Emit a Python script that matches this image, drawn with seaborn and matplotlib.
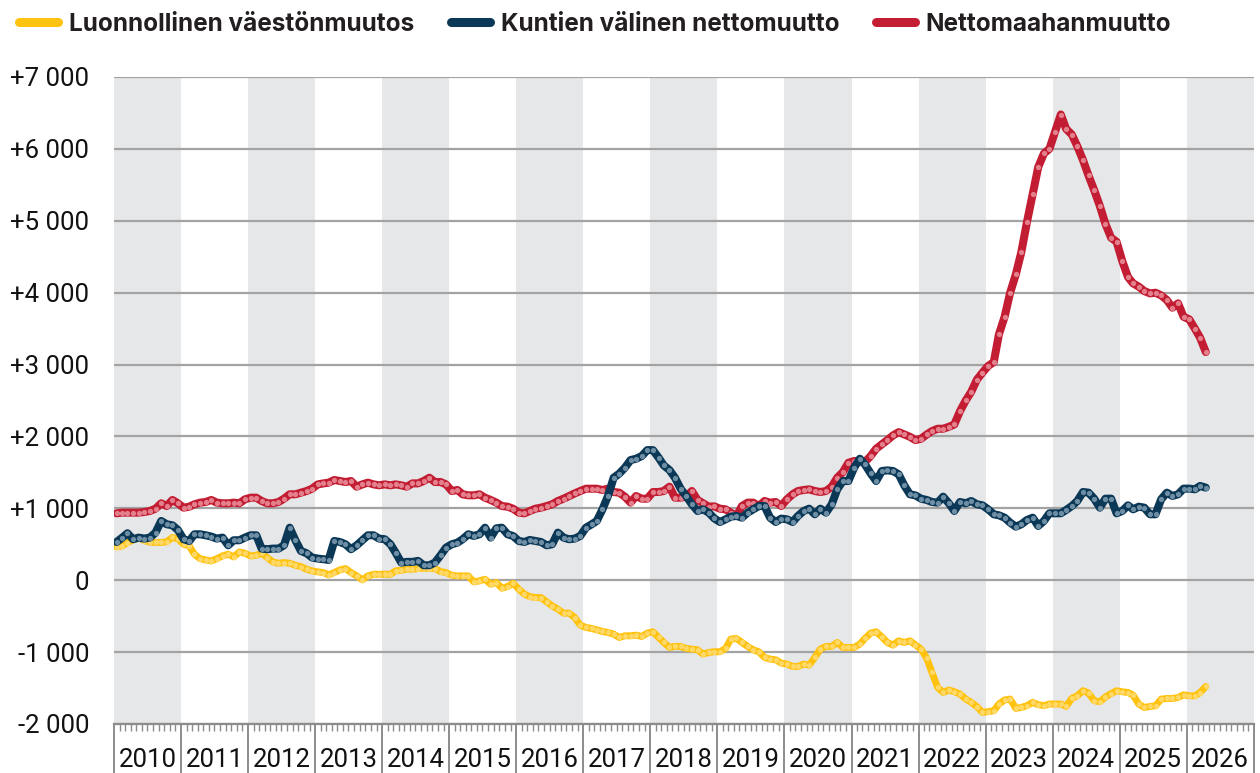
# Väestönmuutoksen osatekijät, 12 kk liukuva summa (kuukausittain)
import pandas as pd
import numpy as np
import matplotlib
matplotlib.use("Agg")
import matplotlib.pyplot as plt
import matplotlib.dates as mdates
from matplotlib.lines import Line2D
import seaborn as sns

# --- data: Jan 2010 ... Apr 2026, one value per month ---
luonnollinen = [
    463, 477, 523, 560, 590, 550, 530, 525, 525, 535, 595, 575,
    500, 477, 360, 300, 282, 268, 300, 338, 361, 324, 393, 375,
    338, 347, 375, 315, 255, 236, 245, 236, 208, 190, 153, 130,
    116, 106, 74, 106, 143, 162, 106, 60, 5, 60, 83, 83,
    83, 83, 130, 139, 153, 153, 162, 167, 162, 162, 120, 106,
    69, 60, 60, 60, -23, -9, 14, -56, -32, -111, -88, -42,
    -125, -194, -227, -241, -241, -301, -356, -403, -458, -458, -519, -625,
    -657, -671, -690, -713, -727, -750, -796, -773, -773, -764, -782, -736,
    -718, -796, -866, -935, -921, -921, -949, -958, -968, -1028, -1005, -995,
    -995, -949, -820, -810, -866, -921, -968, -995, -1074, -1097, -1107, -1153,
    -1167, -1199, -1199, -1167, -1181, -1074, -958, -921, -921, -866, -935, -935,
    -935, -889, -810, -736, -718, -787, -866, -903, -843, -866, -843, -900,
    -958, -1088, -1283, -1491, -1560, -1528, -1551, -1583, -1653, -1699, -1759, -1838,
    -1829, -1815, -1722, -1667, -1653, -1783, -1769, -1745, -1699, -1732, -1745, -1722,
    -1722, -1722, -1755, -1644, -1607, -1537, -1570, -1676, -1690, -1625, -1577, -1538,
    -1552, -1562, -1599, -1724, -1770, -1756, -1747, -1654, -1645, -1645, -1631, -1594,
    -1608, -1608, -1562, -1478,
]

kunnat = [
    532, 593, 653, 570, 593, 579, 593, 662, 824, 778, 764, 699,
    570, 546, 639, 639, 625, 607, 579, 593, 486, 556, 556, 593,
    625, 625, 440, 431, 440, 440, 486, 731, 556, 407, 375, 315,
    301, 292, 282, 546, 532, 500, 431, 486, 556, 625, 625, 579,
    570, 500, 384, 245, 255, 255, 269, 208, 208, 245, 347, 454,
    500, 523, 570, 639, 616, 639, 731, 593, 722, 731, 639, 615,
    546, 532, 560, 546, 532, 486, 500, 662, 593, 570, 579, 616,
    731, 778, 824, 986, 1171, 1426, 1482, 1565, 1671, 1690, 1727, 1810,
    1810, 1704, 1597, 1533, 1426, 1273, 1171, 1056, 963, 986, 940, 860,
    810, 847, 884, 894, 870, 940, 986, 1032, 1032, 870, 810, 857,
    847, 810, 894, 963, 995, 917, 995, 940, 1056, 1264, 1380, 1380,
    1565, 1690, 1611, 1486, 1380, 1519, 1528, 1519, 1472, 1320, 1195, 1180,
    1134, 1116, 1088, 1079, 1162, 1070, 963, 1088, 1070, 1102, 1056, 1042,
    986, 917, 903, 870, 801, 745, 778, 838, 870, 755, 824, 931,
    931, 931, 977, 1032, 1102, 1227, 1218, 1134, 1009, 1134, 1135, 931,
    963, 1042, 986, 1023, 1009, 917, 917, 1126, 1218, 1172, 1195, 1274,
    1274, 1265, 1311, 1288,
]

maahanmuutto = [
    931, 940, 940, 940, 940, 949, 963, 995, 1070, 1032, 1116, 1070,
    1009, 1023, 1056, 1079, 1088, 1116, 1079, 1070, 1070, 1079, 1070, 1125,
    1148, 1148, 1102, 1070, 1070, 1088, 1134, 1195, 1195, 1218, 1241, 1273,
    1333, 1347, 1357, 1394, 1380, 1366, 1380, 1301, 1333, 1357, 1333, 1320,
    1333, 1320, 1333, 1320, 1301, 1347, 1347, 1380, 1426, 1366, 1366, 1333,
    1241, 1255, 1195, 1181, 1181, 1195, 1148, 1116, 1079, 1032, 1023, 995,
    940, 931, 963, 995, 1009, 1032, 1056, 1102, 1134, 1171, 1208, 1241,
    1273, 1273, 1273, 1255, 1273, 1227, 1218, 1162, 1079, 1171, 1134, 1134,
    1227, 1227, 1241, 1301, 1148, 1148, 1162, 1241, 1116, 1070, 1023, 1028,
    995, 986, 940, 894, 1032, 1079, 1079, 1032, 1102, 1079, 1088, 1032,
    1125, 1195, 1241, 1255, 1264, 1241, 1227, 1241, 1301, 1426, 1505, 1634,
    1658, 1658, 1644, 1727, 1829, 1889, 1949, 2014, 2060, 2028, 1995, 1949,
    1968, 2028, 2074, 2107, 2107, 2134, 2167, 2352, 2500, 2620, 2790, 2887,
    2980, 3035, 3420, 3665, 3999, 4254, 4564, 4986, 5375, 5746, 5936, 6000,
    6237, 6478, 6278, 6200, 6037, 5843, 5630, 5426, 5204, 4958, 4764, 4708,
    4439, 4217, 4129, 4083, 4022, 3990, 3999, 3962, 3897, 3791, 3851, 3665,
    3628, 3498, 3373, 3174,
]

labels = ["Luonnollinen väestönmuutos", "Kuntien välinen nettomuutto", "Nettomaahanmuutto"]
years = list(range(2010, 2027))
yticks = list(range(-2000, 7001, 1000))

# dates at mid month
dates = pd.date_range("2010-01-01", periods=len(luonnollinen), freq="MS") + pd.Timedelta(days=14)
df = pd.DataFrame({"date": dates, labels[0]: luonnollinen, labels[1]: kunnat, labels[2]: maahanmuutto})

sns.set_style("white")
plt.rcParams["font.family"] = ["Roboto", "DejaVu Sans"]

colors = {labels[0]: "#FFC20E", labels[1]: "#0B3856", labels[2]: "#C31D33"}
dot_colors = {labels[0]: "#FFD866", labels[1]: "#6D8EA4", labels[2]: "#E3808C"}
widths = {labels[0]: 5.0, labels[1]: 5.8, labels[2]: 5.8}

fig = plt.figure(figsize=(12.6, 7.73), dpi=100)
ax = fig.add_axes([0.0905, 0.0634, 0.9045, 0.837])

# alternating year bands
for y in years:
    if (y - 2010) % 2 == 0:
        ax.axvspan(pd.Timestamp(f"{y}-01-01"), pd.Timestamp(f"{y + 1}-01-01"),
                   color="#E6E7E9", lw=0, zorder=0)

# horizontal gridlines
for t in yticks:
    ax.axhline(t, color="#A3A3A3", lw=1.6, zorder=1)

for i, name in enumerate([labels[0], labels[2], labels[1]]):
    sns.lineplot(data=df, x="date", y=name, ax=ax, color=colors[name], lw=widths[name],
                 marker="o", markersize=3.8, markerfacecolor=dot_colors[name],
                 markeredgewidth=0, solid_capstyle="round", solid_joinstyle="round",
                 zorder=3 + i)

ax.set_xlim(pd.Timestamp("2010-01-01"), pd.Timestamp("2027-01-01"))
ax.set_ylim(-2000, 7000)
ax.set_xlabel("")
ax.set_ylabel("")

ax.set_yticks(yticks)
ax.set_yticklabels([("+" if t > 0 else "") + f"{t:,}".replace(",", " ") for t in yticks],
                   fontsize=18.5, color="#111111")
ax.tick_params(axis="y", length=0, pad=18)

ax.xaxis.set_major_locator(mdates.YearLocator())
ax.xaxis.set_minor_locator(mdates.MonthLocator())
ax.xaxis.set_major_formatter(plt.NullFormatter())
ax.tick_params(axis="x", which="both", bottom=True)
ax.tick_params(axis="x", which="major", length=37, width=1.4, color="#8C8C8C")
ax.tick_params(axis="x", which="minor", length=5, width=1.0, color="#8C8C8C")

for y in years:
    ax.text(pd.Timestamp(f"{y}-07-02"), -0.055, str(y), transform=ax.get_xaxis_transform(),
            ha="center", va="center", fontsize=18.5, color="#111111")

for s in ["top", "right", "left"]:
    ax.spines[s].set_visible(False)
ax.spines["bottom"].set_color("#8C8C8C")
ax.spines["bottom"].set_linewidth(1.6)

handles = [Line2D([0], [0], color=colors[n], lw=6.5, solid_capstyle="round") for n in labels]
fig.legend(handles, labels, loc="upper left", bbox_to_anchor=(-0.002, 1.012), ncol=3,
           frameon=False, prop={"family": "Inter", "weight": "bold", "size": 17.5},
           labelcolor="#231F20", handlelength=1.6, handletextpad=0.45, columnspacing=1.5)

fig.savefig("out.png", dpi=100)
